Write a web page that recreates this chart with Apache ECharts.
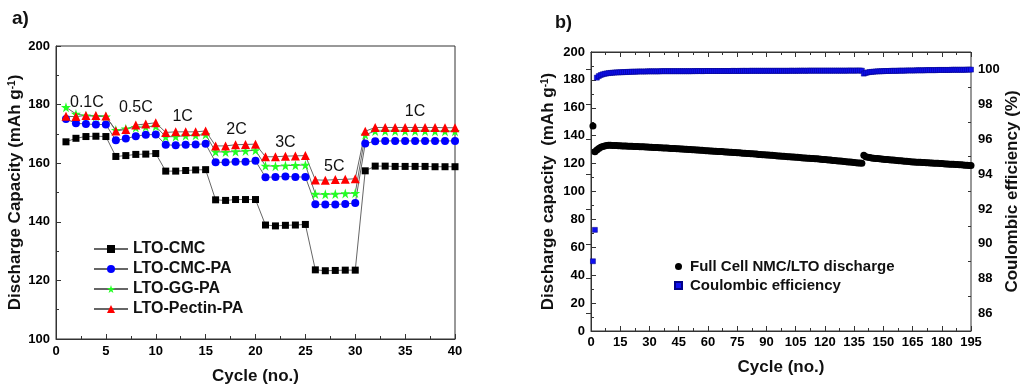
<!DOCTYPE html>
<html>
<head>
<meta charset="utf-8">
<script src="https://cdn.jsdelivr.net/npm/echarts@6/dist/echarts.min.js"></script>
<style>html,body{margin:0;padding:0;background:#fff;}#c{width:1024px;height:390px;}</style>
</head>
<body>
<div id="c"></div>
<script>
// ---------- Panel a) rate capability ----------
const cyclesA = [1,2,3,4,5,6,7,8,9,10,11,12,13,14,15,16,17,18,19,20,21,22,23,24,25,26,27,28,29,30,31,32,33,34,35,36,37,38,39,40];
const ltoCMC = [167.3,168.5,169.1,169.2,169.1, 162.3,162.6,163.0,163.1,163.3, 157.3,157.3,157.5,157.7,157.8, 147.5,147.3,147.6,147.6,147.6, 138.9,138.6,138.8,138.9,139.1, 123.6,123.3,123.4,123.5,123.5, 157.4,159.0,159.0,158.9,158.9,158.9,158.9,158.8,158.8,158.8];
const ltoCMCPA = [175.1,173.6,173.4,173.2,173.2, 167.8,168.4,169.2,169.7,169.8, 166.3,166.1,166.3,166.4,166.6, 160.3,160.3,160.5,160.5,160.8, 155.2,155.3,155.5,155.3,155.3, 146.0,145.9,145.9,146.1,146.4, 166.7,167.5,167.6,167.6,167.6,167.6,167.6,167.6,167.6,167.6];
const ltoGGPA = [179.1,176.8,176.2,176.0,175.9, 171.3,171.8,172.2,172.4,172.6, 169.0,169.1,169.4,169.5,169.8, 163.9,163.8,164.0,164.2,164.4, 159.1,159.0,159.2,159.3,159.4, 149.5,149.4,149.5,149.7,149.8, 169.7,171.0,171.0,171.0,171.0,171.0,171.0,170.9,170.9,170.9];
const ltoPectinPA = [176.0,175.9,176.3,176.3,176.1, 171.0,171.5,173.0,173.4,173.8, 170.5,170.7,170.7,170.7,171.0, 165.9,165.9,166.3,166.4,166.5, 162.2,162.2,162.4,162.5,162.6, 154.3,154.2,154.4,154.5,154.7, 170.9,172.2,172.2,172.2,172.2,172.2,172.2,172.2,172.1,172.1];
const seriesNamesA = ['LTO-CMC','LTO-CMC-PA','LTO-GG-PA','LTO-Pectin-PA'];
const rateLabels = ['0.1C','0.5C','1C','2C','3C','5C','1C'];
const rateLabelX = [3.1, 8.0, 12.7, 18.1, 23.0, 27.9, 36.0];
const rateLabelY = [180.8, 179.1, 176.0, 171.6, 167.2, 159.0, 177.7];

// ---------- Panel b) full cell cycling ----------
const dischargeB = [
147.0,128.5,129.8,130.9,131.7,132.3,132.7,133.0,133.1,133.1,
133.0,133.0,132.9,132.8,132.8,132.7,132.6,132.6,132.5,132.4,
132.4,132.3,132.3,132.2,132.1,132.1,132.0,131.9,131.9,131.8,
131.7,131.6,131.6,131.5,131.4,131.3,131.2,131.2,131.1,131.0,
130.9,130.8,130.8,130.7,130.6,
130.5,130.4,130.3,130.2,130.1,130.1,130.0,129.9,129.8,129.7,129.6,129.5,129.4,129.3,129.2,
129.1,129.0,128.9,128.8,128.7,128.7,128.6,128.5,128.4,128.3,128.2,128.1,128.0,127.9,127.8,
127.7,127.6,127.5,127.4,127.3,127.2,127.1,127.0,126.9,126.8,126.6,126.5,126.4,126.3,126.2,
126.1,126.0,125.9,125.8,125.7,125.5,125.4,125.3,125.2,125.1,125.0,124.9,124.8,124.7,124.6,
124.5,124.4,124.2,124.1,124.0,123.9,123.8,123.7,123.6,123.5,123.4,123.3,123.2,123.0,122.9,
122.8,122.6,122.5,122.3,122.2,122.0,121.9,121.8,121.6,121.5,121.3,121.2,121.1,120.9,120.8,
120.6,120.5,120.4,120.2,
125.9,125.0,124.6,124.3,124.1,123.9,
123.7,123.6,123.4,123.3,123.1,
123.0,122.9,122.7,122.6,122.5,122.4,122.2,122.1,122.0,121.8,121.7,121.6,121.5,121.3,121.2,
121.1,121.0,121.0,120.9,120.8,120.7,120.6,120.6,120.5,120.4,120.3,120.2,120.2,120.1,120.0,
119.9,119.8,119.7,119.6,119.5,119.5,119.4,119.3,119.2,119.1,119.0,118.9,118.8,118.7,118.6
];
const coulombicB = [
89.0,90.8,99.53,99.62,99.68,99.72,99.75,99.77,99.79,99.80,
99.81,99.82,99.83,99.83,99.84,99.84,99.85,99.85,99.86,99.86,
99.87,99.87,99.87,99.88,99.88,99.88,99.88,99.88,99.89,99.89,
99.89,99.89,99.89,99.89,99.89,99.90,99.90,99.90,99.90,99.90,
99.90,99.90,99.90,99.90,99.90,99.90,99.90,99.90,99.90,99.90,
99.90,99.90,99.91,99.90,99.91,99.91,99.90,99.91,99.91,99.91,
99.91,99.91,99.91,99.91,99.91,99.91,99.91,99.91,99.91,99.91,
99.91,99.91,99.92,99.91,99.91,99.92,99.91,99.92,99.92,99.91,
99.92,99.92,99.92,99.92,99.92,99.92,99.92,99.92,99.92,99.92,
99.92,99.92,99.92,99.92,99.92,99.92,99.92,99.92,99.92,99.92,
99.92,99.92,99.93,99.92,99.92,99.93,99.92,99.93,99.93,99.92,
99.93,99.93,99.93,99.93,99.93,99.93,99.93,99.93,99.93,99.93,
99.93,99.93,99.93,99.93,99.93,99.93,99.93,99.93,99.93,99.93,
99.93,99.93,99.94,99.93,99.93,99.94,99.93,99.94,99.93,
99.76,99.80,99.83,99.85,99.86,99.87,99.88,99.89,99.89,99.90,99.90,
99.91,99.91,99.91,99.92,99.92,99.92,99.92,99.93,99.93,99.93,
99.93,99.94,99.94,99.94,99.94,99.94,99.95,99.95,99.95,99.95,
99.95,99.96,99.96,99.96,99.96,99.96,99.96,99.97,99.97,99.97,
99.97,99.97,99.97,99.97,99.98,99.98,99.98,99.98,99.98,99.98,
99.98,99.98,99.99,99.99,99.99
];
const seriesNamesB = ['Full Cell NMC/LTO discharge','Coulombic efficiency'];
const ceMajorTicks = [86,88,90,92,94,96,98,100];
const ceMinorTicks = [87,89,91,93,95,97,99];

const FF = "'Liberation Sans', Arial, Helvetica, sans-serif";
const INK = '#111';
const FRAME = '#333';
const starPath = 'path://M50,0 L61,35 L98,35 L68,57 L79,91 L50,70 L21,91 L32,57 L2,35 L39,35 Z';
const squarePath = 'path://M0,0 L10,0 L10,10 L0,10 Z';

function pairs(xs, ys) { return ys.map((v, i) => [xs[i], v]); }
const cyclesB = dischargeB.map((v, i) => i + 1);

const tickLabel = { color: '#000', fontFamily: FF, fontWeight: 'bold', fontSize: 13 };
const nameStyle = (sz) => ({
  color: INK, fontFamily: FF, fontWeight: 'bold', fontSize: sz,
  rich: { sup: { fontFamily: FF, fontWeight: 'bold', fontSize: 10, color: INK, verticalAlign: 'top', padding: [0,0,6,0] } }
});
const axLine = { show: true, lineStyle: { color: FRAME, width: 1 } };

const option = {
  animation: false,
  backgroundColor: '#fff',
  title: [
    { text: 'a)', left: 7, top: 4, textStyle: { fontFamily: FF, fontWeight: 'bold', fontSize: 19, color: INK } },
    { text: 'b)', left: 550, top: 9, textStyle: { fontFamily: FF, fontWeight: 'bold', fontSize: 18, color: INK } }
  ],
  grid: [
    { left: 56, top: 46, width: 399, height: 293, show: true, borderColor: FRAME, borderWidth: 1, backgroundColor: 'transparent' },
    { left: 591, top: 52, width: 380, height: 279, show: true, borderColor: FRAME, borderWidth: 1, backgroundColor: 'transparent' }
  ],
  legend: [
    {
      data: seriesNamesA, orient: 'vertical', left: 93, top: 241, itemGap: 4, padding: 0,
      itemWidth: 34, itemHeight: 10,
      textStyle: { fontFamily: FF, fontWeight: 'bold', fontSize: 16, color: INK }
    },
    {
      data: [{ name: seriesNamesB[0], icon: 'circle' }, { name: seriesNamesB[1], icon: squarePath }],
      orient: 'vertical', left: 674, top: 259, itemGap: 4, padding: 0,
      itemWidth: 13, itemHeight: 7,
      textStyle: { fontFamily: FF, fontWeight: 'bold', fontSize: 15, color: INK }
    }
  ],
  xAxis: [
    {
      gridIndex: 0, type: 'value', position: 'bottom', min: 0, max: 40, interval: 5,
      axisLine: axLine, splitLine: { show: false },
      axisTick: { inside: true, length: 5, lineStyle: { color: FRAME } },
      minorTick: { show: true, splitNumber: 2, length: 3, lineStyle: { color: FRAME } },
      axisLabel: Object.assign({ margin: 6 }, tickLabel),
      name: 'Cycle (no.)', nameLocation: 'middle', nameGap: 29, nameTextStyle: nameStyle(17)
    },
    {
      gridIndex: 1, type: 'value', position: 'bottom', min: 0, max: 195, interval: 15,
      axisLine: axLine, splitLine: { show: false },
      axisTick: { inside: true, length: 5, lineStyle: { color: FRAME } },
      minorTick: { show: true, splitNumber: 2, length: 3, lineStyle: { color: FRAME } },
      axisLabel: Object.assign({ margin: 5 }, tickLabel),
      name: 'Cycle (no.)', nameLocation: 'middle', nameGap: 28, nameTextStyle: nameStyle(17)
    },
    {
      gridIndex: 1, type: 'value', position: 'top', min: 0, max: 195, interval: 15,
      axisLine: axLine, splitLine: { show: false },
      axisTick: { inside: true, length: 5, lineStyle: { color: FRAME } },
      minorTick: { show: true, splitNumber: 2, length: 3, lineStyle: { color: FRAME } },
      axisLabel: { show: false }
    }
  ],
  yAxis: [
    {
      gridIndex: 0, type: 'value', position: 'left', min: 100, max: 200, interval: 20,
      axisLine: axLine, splitLine: { show: false },
      axisTick: { inside: true, length: 5, lineStyle: { color: FRAME } },
      minorTick: { show: true, splitNumber: 2, length: 3, lineStyle: { color: FRAME } },
      axisLabel: Object.assign({ margin: 6 }, tickLabel),
      name: 'Discharge Capacity (mAh g{sup|-1})', nameLocation: 'middle', nameGap: 32, nameTextStyle: nameStyle(17)
    },
    {
      gridIndex: 1, type: 'value', position: 'left', min: 0, max: 200, interval: 20,
      axisLine: axLine, splitLine: { show: false },
      axisTick: { inside: true, length: 5, lineStyle: { color: FRAME } },
      minorTick: { show: true, splitNumber: 2, length: 3, lineStyle: { color: FRAME } },
      axisLabel: Object.assign({ margin: 6 }, tickLabel),
      name: 'Discharge capacity  (mAh g{sup|-1})', nameLocation: 'middle', nameGap: 34, nameTextStyle: nameStyle(17)
    },
    {
      gridIndex: 1, type: 'value', position: 'right', min: 85, max: 101,
      axisLine: axLine, splitLine: { show: false },
      axisTick: { inside: true, length: 5, customValues: ceMajorTicks, lineStyle: { color: FRAME } },
      axisLabel: Object.assign({ margin: 7, customValues: ceMajorTicks }, tickLabel),
      name: 'Coulombic efficiency (%)', nameLocation: 'middle', nameGap: 31, nameRotate: 90, nameTextStyle: nameStyle(17)
    },
    {
      gridIndex: 1, type: 'value', position: 'right', min: 85, max: 101,
      axisLine: { show: false }, splitLine: { show: false },
      axisTick: { inside: true, length: 3, customValues: ceMinorTicks, lineStyle: { color: FRAME } },
      axisLabel: { show: false }
    }
  ],
  series: [
    { name: seriesNamesA[0], type: 'line', xAxisIndex: 0, yAxisIndex: 0, data: pairs(cyclesA, ltoCMC),
      symbol: 'rect', symbolSize: 7, itemStyle: { color: '#000' }, lineStyle: { color: '#666', width: 1 } },
    { name: seriesNamesA[1], type: 'line', xAxisIndex: 0, yAxisIndex: 0, data: pairs(cyclesA, ltoCMCPA),
      symbol: 'circle', symbolSize: 8, itemStyle: { color: '#0000ff' }, lineStyle: { color: '#666', width: 1 } },
    { name: seriesNamesA[2], type: 'line', xAxisIndex: 0, yAxisIndex: 0, data: pairs(cyclesA, ltoGGPA),
      symbol: starPath, symbolSize: 10, itemStyle: { color: '#22ff22' }, lineStyle: { color: '#666', width: 1 } },
    { name: seriesNamesA[3], type: 'line', xAxisIndex: 0, yAxisIndex: 0, data: pairs(cyclesA, ltoPectinPA),
      symbol: 'triangle', symbolSize: 9, itemStyle: { color: '#ff0000' }, lineStyle: { color: '#666', width: 1 } },
    { name: 'rates', type: 'scatter', xAxisIndex: 0, yAxisIndex: 0, silent: true, z: 5,
      data: rateLabels.map((t, i) => ({ name: t, value: [rateLabelX[i], rateLabelY[i]] })),
      symbolSize: 1, itemStyle: { color: 'rgba(0,0,0,0)', opacity: 1 },
      label: { show: true, position: 'inside', formatter: (p) => p.name, fontFamily: FF, fontSize: 16, color: INK, opacity: 1 } },
    { name: seriesNamesB[0], type: 'scatter', xAxisIndex: 1, yAxisIndex: 1, data: pairs(cyclesB, dischargeB),
      symbol: 'circle', symbolSize: 7, itemStyle: { color: '#000', opacity: 1 } },
    { name: seriesNamesB[1], type: 'scatter', xAxisIndex: 1, yAxisIndex: 2, data: pairs(cyclesB, coulombicB),
      symbol: 'rect', symbolSize: 5, itemStyle: { color: '#1010f0', borderColor: '#000088', borderWidth: 0.5, opacity: 1 } }
  ]
};
const chart = echarts.init(document.getElementById('c'), null, { renderer: 'canvas' });
chart.setOption(option);
</script>
</body>
</html>
